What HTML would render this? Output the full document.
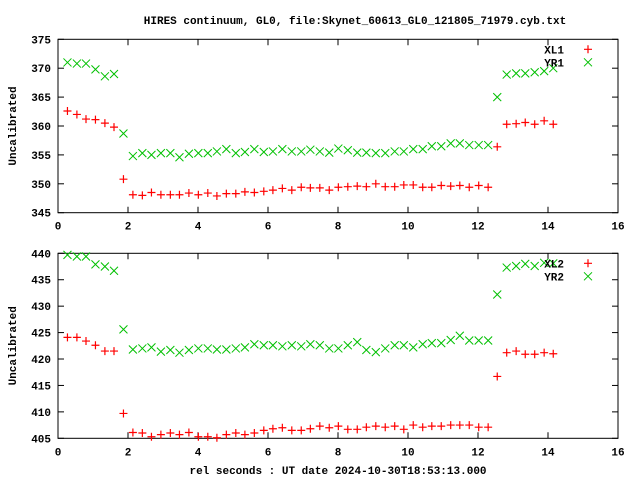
<!DOCTYPE html>
<html><head><meta charset="utf-8"><style>
html,body{margin:0;padding:0;background:#fff;}
svg text{font-family:"Liberation Mono",monospace;font-weight:bold;font-size:11px;fill:#000;}
</style></head><body>
<svg id="chart" width="640" height="480" xmlns="http://www.w3.org/2000/svg">
<text x="355" y="24" text-anchor="middle">HIRES continuum, GL0, file:Skynet_60613_GL0_121805_71979.cyb.txt</text>
<text x="338" y="474" text-anchor="middle">rel seconds : UT date 2024-10-30T18:53:13.000</text>
<g id="p1"></g>
<g id="p2"></g>
</svg>
<script>
const times = [0.27,0.54,0.80,1.07,1.34,1.60,1.87,2.14,2.41,2.67,2.94,3.21,3.47,3.74,4.01,4.28,4.54,4.81,5.08,5.34,5.61,5.88,6.14,6.41,6.68,6.95,7.21,7.48,7.75,8.01,8.28,8.55,8.81,9.08,9.35,9.62,9.88,10.15,10.42,10.68,10.95,11.22,11.48,11.75,12.02,12.29,12.55,12.82,13.09,13.35,13.62,13.89,14.15];
const xl1 = [362.6,362.0,361.2,361.1,360.5,359.8,350.8,348.1,348.0,348.5,348.1,348.1,348.1,348.4,348.1,348.4,347.9,348.3,348.3,348.6,348.5,348.7,348.9,349.2,348.9,349.4,349.3,349.3,348.9,349.4,349.5,349.6,349.5,350.0,349.5,349.5,349.8,349.8,349.4,349.4,349.7,349.6,349.7,349.4,349.7,349.4,356.4,360.3,360.4,360.6,360.3,360.9,360.3];
const yr1 = [371.0,370.8,370.8,369.8,368.6,369.0,358.7,354.8,355.3,355.0,355.3,355.3,354.6,355.2,355.3,355.3,355.6,356.0,355.3,355.5,356.0,355.5,355.6,356.0,355.6,355.6,355.9,355.6,355.4,356.1,355.8,355.4,355.4,355.3,355.3,355.6,355.6,356.0,356.0,356.5,356.5,357.0,357.0,356.7,356.7,356.7,365.0,368.9,369.1,369.1,369.3,369.5,370.0];
const xl2 = [424.1,424.1,423.4,422.6,421.5,421.5,409.7,406.1,406.0,405.3,405.7,406.0,405.7,406.1,405.3,405.3,405.1,405.7,406.0,405.7,406.0,406.5,406.8,407.0,406.5,406.5,406.8,407.3,407.0,407.3,406.7,406.7,407.1,407.3,407.1,407.3,406.7,407.5,407.1,407.3,407.3,407.5,407.5,407.5,407.1,407.1,416.7,421.2,421.5,420.9,420.9,421.2,421.0];
const yr2 = [439.7,439.4,439.4,437.9,437.5,436.7,425.6,421.8,422.0,422.2,421.4,421.7,421.2,421.7,422.0,422.0,421.8,421.8,422.0,422.2,422.8,422.6,422.6,422.4,422.6,422.4,422.8,422.6,422.0,422.0,422.6,423.2,421.7,421.3,422.0,422.6,422.6,422.2,422.8,423.0,423.0,423.6,424.4,423.5,423.5,423.5,432.2,437.3,437.6,438.0,437.6,438.2,438.1];
const xTicks = [0,2,4,6,8,10,12,14,16];
const yTicks1 = [345,350,355,360,365,370,375];
const yTicks2 = [405,410,415,420,425,430,435,440];
const NS = "http://www.w3.org/2000/svg";
function mk(tag, attrs, parent, txt){const e=document.createElementNS(NS,tag);for(const k in attrs)e.setAttribute(k,attrs[k]);if(txt!==undefined)e.textContent=txt;parent.appendChild(e);return e;}
function panel(g, top, bottom, ymin, ymax, yTicks, sA, sB, nA, nB, pfx){
  const L=58, R=618;
  const xs=v=>L+(v-0)/(16-0)*(R-L);
  const ys=v=>bottom-(v-ymin)/(ymax-ymin)*(bottom-top);
  const frame=mk('rect',{x:L,y:top,width:R-L,height:bottom-top,fill:'none',stroke:'#000','stroke-width':1},g);
  
  
  const yl=mk('text',{x:16,y:(top+bottom)/2,'text-anchor':'middle',transform:`rotate(-90 16 ${(top+bottom)/2})`},g,'Uncalibrated');
  
  
  yTicks.forEach(t=>{
    const y=ys(t);
    mk('line',{x1:L,y1:y,x2:L+6,y2:y,stroke:'#000'},g);
    mk('line',{x1:R,y1:y,x2:R-6,y2:y,stroke:'#000'},g);
    const tl=mk('text',{x:51,y:y+4,'text-anchor':'end'},g,String(t));
    
    
  });
  xTicks.forEach(t=>{
    const x=xs(t);
    mk('line',{x1:x,y1:bottom,x2:x,y2:bottom-6,stroke:'#000'},g);
    mk('line',{x1:x,y1:top,x2:x,y2:top+6,stroke:'#000'},g);
    const tl=mk('text',{x:x,y:bottom+17,'text-anchor':'middle'},g,String(t));
    
    
  });
  function plus(x,y,c,name){const p=mk('path',{d:`M${x-4} ${y}H${x+4}M${x} ${y-4}V${y+4}`,stroke:c,'stroke-width':1.2,fill:'none'},g);
    
    }
  function cross(x,y,c,name){const p=mk('path',{d:`M${x-4} ${y-4}L${x+4} ${y+4}M${x-4} ${y+4}L${x+4} ${y-4}`,stroke:c,'stroke-width':1,fill:'none'},g);
    
    }
  times.forEach((t,i)=>{plus(xs(t),ys(sA[i]),'#ff0000',nA.toLowerCase()+'-point');});
  times.forEach((t,i)=>{cross(xs(t),ys(sB[i]),'#00c000',nB.toLowerCase()+'-point');});
  const la=mk('text',{x:564,y:top+14,'text-anchor':'end'},g,nA);
  
  
  plus(588,top+10,'#ff0000',nA.toLowerCase()+'-legend-marker');
  const lb=mk('text',{x:564,y:top+27,'text-anchor':'end'},g,nB);
  
  
  cross(588,top+23,'#00c000',nB.toLowerCase()+'-legend-marker');
}
panel(document.getElementById('p1'),39.3,212.7,345,375,yTicks1,xl1,yr1,'XL1','YR1','top');
panel(document.getElementById('p2'),253.3,438.3,405,440,yTicks2,xl2,yr2,'XL2','YR2','bottom');
</script>
</body></html>
